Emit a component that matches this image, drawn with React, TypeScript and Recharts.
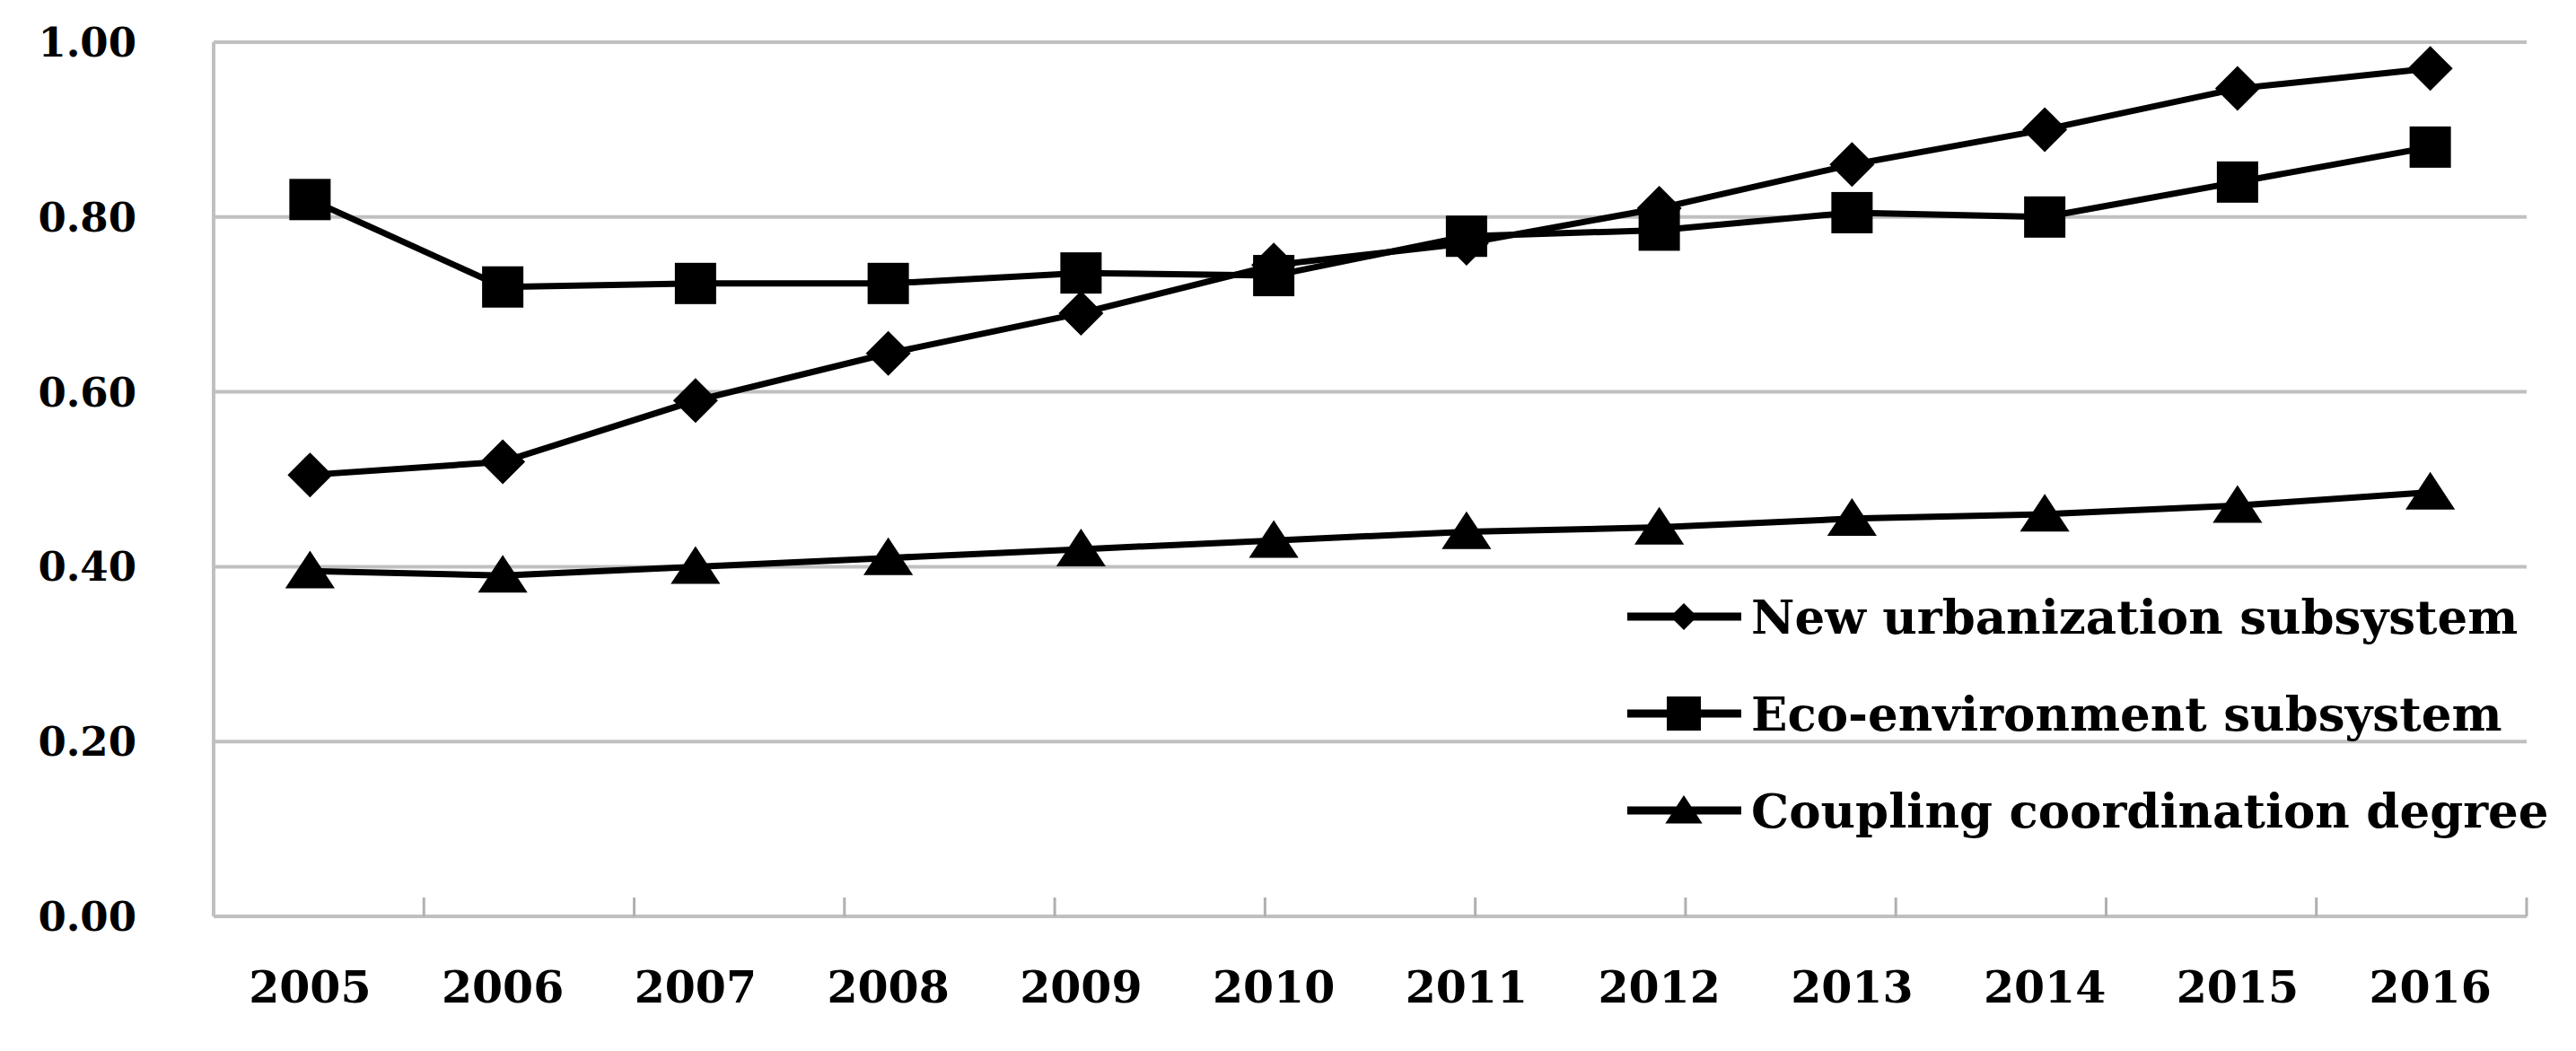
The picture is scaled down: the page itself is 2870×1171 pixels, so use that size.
import React from 'react';
import { LineChart, Line, XAxis, YAxis, CartesianGrid, Legend } from 'recharts';

const years = ['2005', '2006', '2007', '2008', '2009', '2010', '2011', '2012', '2013', '2014', '2015', '2016'];
const urbanization = [0.505, 0.52, 0.59, 0.644, 0.69, 0.745, 0.77, 0.81, 0.86, 0.9, 0.947, 0.97];
const ecoEnvironment = [0.82, 0.72, 0.724, 0.724, 0.736, 0.733, 0.778, 0.785, 0.805, 0.8, 0.84, 0.88];
const coupling = [0.395, 0.39, 0.4, 0.41, 0.42, 0.43, 0.44, 0.445, 0.455, 0.46, 0.47, 0.485];
const yTicks = [0, 0.2, 0.4, 0.6, 0.8, 1.0];
const boundaryTicks = [0, 1, 2, 3, 4, 5, 6, 7, 8, 9, 10, 11, 12];
const seriesNames = ['New urbanization subsystem', 'Eco-environment subsystem', 'Coupling coordination degree'];

const data = years.map((year, i) => ({
  year,
  urban: urbanization[i],
  eco: ecoEnvironment[i],
  coupling: coupling[i],
}));

const FONT = '"DejaVu Serif", serif';
const GRID = '#c0c0c0';

type Shape = 'diamond' | 'square' | 'triangle';

const Marker = ({ cx, cy, shape, size }: { cx: number; cy: number; shape: Shape; size: number }) => {
  const h = size / 2;
  if (shape === 'diamond') {
    return <polygon points={`${cx},${cy - h} ${cx + h},${cy} ${cx},${cy + h} ${cx - h},${cy}`} fill="#000" />;
  }
  if (shape === 'square') {
    return <rect x={cx - h} y={cy - h} width={size} height={size} fill="#000" />;
  }
  return (
    <polygon
      points={`${cx},${cy - h * 0.95} ${cx + h * 1.15},${cy + h * 0.8} ${cx - h * 1.15},${cy + h * 0.8}`}
      fill="#000"
    />
  );
};

const makeDot = (shape: Shape, size: number) => (props: any) => {
  const { cx, cy, index } = props;
  if (cx == null || cy == null) return <g key={`n-${shape}-${index}`} />;
  return <Marker key={`${shape}-${index}`} cx={cx} cy={cy} shape={shape} size={size} />;
};

// boundary axis only shows its tick marks
const noLabel = (props: any) => <g key={`b-${props.index}`} />;

const legendShapes: Shape[] = ['diamond', 'square', 'triangle'];
const legendSizes = [30, 38, 36];

const LegendBox = () => (
  <div style={{ fontFamily: FONT, fontWeight: 'bold', fontSize: 53, color: '#000' }}>
    {seriesNames.map((name, i) => (
      <div key={name} style={{ display: 'flex', alignItems: 'center', height: 108 }}>
        <svg width={127} height={50} style={{ display: 'block' }}>
          <line x1={0} y1={25} x2={127} y2={25} stroke="#000" strokeWidth={9} />
          <Marker cx={63} cy={25} shape={legendShapes[i]} size={legendSizes[i]} />
        </svg>
        <span style={{ marginLeft: 11, whiteSpace: 'nowrap', lineHeight: 1 }}>{name}</span>
      </div>
    ))}
  </div>
);

const App: React.FC = () => {
  return (
    <div style={{ position: 'absolute', left: 0, top: 0, width: 2870, height: 1171, background: '#fff' }}>
      <LineChart width={2870} height={1171} data={data} margin={{ top: 47, right: 55, left: 0, bottom: 0 }}>
        <CartesianGrid horizontal vertical={false} stroke={GRID} strokeWidth={4} />
        <XAxis
          dataKey="year"
          scale="band"
          height={150}
          axisLine={{ stroke: GRID, strokeWidth: 4 }}
          tickLine={false}
          tickSize={0}
          tickMargin={61}
          tick={{ fontFamily: FONT, fontWeight: 'bold', fontSize: 49, fill: '#000' }}
        />
        <XAxis
          xAxisId="b"
          type="number"
          domain={[0, 12]}
          ticks={boundaryTicks}
          mirror
          axisLine={false}
          tick={noLabel}
          tickSize={21}
          tickLine={{ stroke: '#b0b0b0', strokeWidth: 3 }}
        />
        <YAxis
          width={238}
          domain={[0, 1]}
          ticks={yTicks}
          tickFormatter={(v: number) => v.toFixed(2)}
          axisLine={{ stroke: GRID, strokeWidth: 4 }}
          tickLine={false}
          tickSize={0}
          tickMargin={86}
          tick={{ fontFamily: FONT, fontWeight: 'bold', fontSize: 45, fill: '#000' }}
        />
        <Legend
          layout="vertical"
          align="center"
          verticalAlign="middle"
          content={() => <LegendBox />}
          wrapperStyle={{ left: 1813, top: 633, width: 'auto' }}
        />
        <Line
          dataKey="urban"
          name={seriesNames[0]}
          stroke="#000"
          strokeWidth={7}
          dot={makeDot('diamond', 50)}
          activeDot={false}
          isAnimationActive={false}
        />
        <Line
          dataKey="eco"
          name={seriesNames[1]}
          stroke="#000"
          strokeWidth={7}
          dot={makeDot('square', 46)}
          activeDot={false}
          isAnimationActive={false}
        />
        <Line
          dataKey="coupling"
          name={seriesNames[2]}
          stroke="#000"
          strokeWidth={7}
          dot={makeDot('triangle', 48)}
          activeDot={false}
          isAnimationActive={false}
        />
      </LineChart>
    </div>
  );
};

export default App;
